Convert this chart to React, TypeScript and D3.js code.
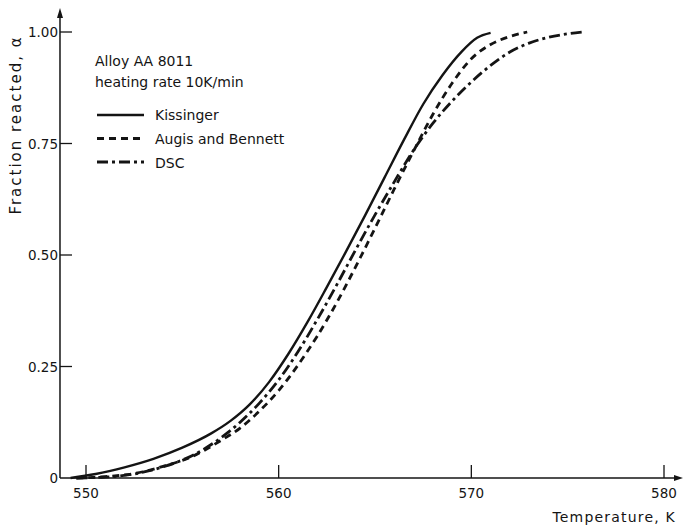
import React from "react";
import * as d3 from "d3";

const W = 685;
const H = 525;

const xTicks = [550, 560, 570, 580];
const yTicks = [0, 0.25, 0.5, 0.75, 1.0];
const yTickLabels = ["0", "0.25", "0.50", "0.75", "1.00"];

const kissT = [549.2, 550.5, 552.0, 553.5, 555.0, 556.5, 557.5, 558.5, 559.5, 560.5, 561.5, 562.5, 563.5, 564.5, 565.5, 566.5, 567.5, 568.5, 569.5, 570.3, 571.0];
const kissA = [0.0, 0.009, 0.024, 0.043, 0.068, 0.1, 0.128, 0.165, 0.215, 0.278, 0.35, 0.428, 0.508, 0.59, 0.674, 0.758, 0.838, 0.903, 0.956, 0.987, 0.998];

const augT = [549.5, 551.0, 552.5, 554.0, 555.5, 557.0, 558.0, 559.0, 560.0, 561.0, 562.0, 563.0, 564.0, 565.0, 566.0, 567.0, 568.0, 569.0, 570.0, 571.0, 572.0, 572.9];
const augA = [0.0, 0.003, 0.01, 0.026, 0.048, 0.084, 0.112, 0.15, 0.196, 0.253, 0.318, 0.392, 0.474, 0.56, 0.648, 0.733, 0.815, 0.885, 0.94, 0.972, 0.99, 1.0];

const dscT = [549.5, 551.0, 552.5, 554.0, 555.5, 557.0, 558.0, 559.0, 560.0, 561.0, 562.0, 563.0, 564.0, 565.0, 566.0, 567.0, 568.0, 569.0, 570.0, 571.0, 572.0, 573.0, 574.0, 575.0, 575.8];
const dscA = [0.0, 0.002, 0.009, 0.025, 0.05, 0.09, 0.125, 0.168, 0.22, 0.283, 0.355, 0.432, 0.512, 0.59, 0.664, 0.735, 0.795, 0.845, 0.888, 0.925, 0.955, 0.975, 0.988, 0.996, 1.0];

const seriesNames = ["Kissinger", "Augis and Bennett", "DSC"];
const seriesDash = ["none", "7 5", "11 4 3 4"];

export default function App() {
  const x = d3.scaleLinear().domain([550, 580]).range([86, 664]);
  const y = d3.scaleLinear().domain([0, 1]).range([478, 32]);
  const line = d3
    .line<[number, number]>()
    .x((d) => x(d[0]))
    .y((d) => y(d[1]))
    .curve(d3.curveMonotoneX);

  const series = [
    kissT.map((t, i) => [t, kissA[i]] as [number, number]),
    augT.map((t, i) => [t, augA[i]] as [number, number]),
    dscT.map((t, i) => [t, dscA[i]] as [number, number]),
  ];

  const x0 = x(548.65);
  const xEnd = 683;
  const y0 = y(0);
  const yTop = 8;
  const font = "'DejaVu Sans', sans-serif";
  const ink = "#141414";

  return (
    <svg
      width={W}
      height={H}
      style={{ position: "absolute", left: 0, top: 0, background: "#fff" }}
      fontFamily={font}
    >
      <rect x={0} y={0} width={W} height={H} fill="#fff" />
      {/* axes */}
      <line x1={x0} y1={y0} x2={xEnd - 4} y2={y0} stroke={ink} strokeWidth={1.5} />
      <path d={`M${xEnd},${y0} L${xEnd - 9},${y0 - 3} L${xEnd - 9},${y0 + 3} Z`} fill={ink} />
      <line x1={x0} y1={y0} x2={x0} y2={yTop + 4} stroke={ink} strokeWidth={1.5} />
      <path d={`M${x0},${yTop} L${x0 - 3},${yTop + 10} L${x0 + 3},${yTop + 10} Z`} fill={ink} />

      {xTicks.map((t) => (
        <g key={t}>
          <line x1={x(t)} y1={y0} x2={x(t)} y2={y0 - 13} stroke={ink} strokeWidth={1.3} />
          <text x={x(t)} y={y0 + 20} textAnchor="middle" fontSize={13.5} fill={ink}>
            {t}
          </text>
        </g>
      ))}
      {yTicks.map((v, i) => (
        <g key={v}>
          {v > 0 && (
            <line x1={x0} y1={y(v)} x2={x0 + 12} y2={y(v)} stroke={ink} strokeWidth={1.3} />
          )}
          <text x={x0 - 2} y={y(v) + 5} textAnchor="end" fontSize={13.5} fill={ink}>
            {yTickLabels[i]}
          </text>
        </g>
      ))}

      <text
        transform={`translate(21,125) rotate(-90)`}
        textAnchor="middle"
        fontSize={15}
        letterSpacing={2}
        fill={ink}
      >
        Fraction reacted, α
      </text>
      <text x={676} y={522} textAnchor="end" fontSize={14} letterSpacing={1.2} fill={ink}>
        Temperature, K
      </text>

      {/* curves */}
      {series.map((s, i) => (
        <path
          key={i}
          d={line(s) || ""}
          fill="none"
          stroke={ink}
          strokeWidth={i === 0 ? 2.4 : 2.8}
          strokeDasharray={seriesDash[i]}
        />
      ))}

      {/* legend */}
      <text x={95} y={66} fontSize={14} fill={ink}>Alloy AA 8011</text>
      <text x={95} y={87} fontSize={14} fill={ink}>heating rate 10K/min</text>
      {seriesNames.map((n, i) => (
        <g key={n}>
          <line
            x1={97}
            y1={115 + i * 23.5}
            x2={144}
            y2={115 + i * 23.5}
            stroke={ink}
            strokeWidth={i === 0 ? 2.4 : 2.8}
            strokeDasharray={seriesDash[i]}
          />
          <text x={155} y={120 + i * 24} fontSize={14} fill={ink}>
            {n}
          </text>
        </g>
      ))}
    </svg>
  );
}
